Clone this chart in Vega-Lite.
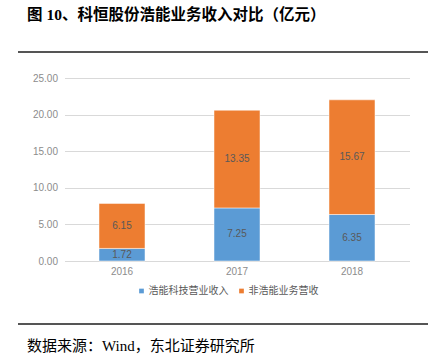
{
  "$schema": "https://vega.github.io/schema/vega-lite/v6.json",
  "background": "white",
  "padding": {"left": 17, "top": 7, "right": 0, "bottom": 0},
  "spacing": 0,
  "center": true,
  "config": {
    "view": {"stroke": null},
    "font": "Liberation Sans, Noto Sans CJK SC"
  },
  "resolve": {"scale": {"color": "independent"}, "legend": {"color": "independent"}},
  "vconcat": [
    {
      "width": 437,
      "height": 21,
      "data": {"values": [{"v": 1}]},
      "mark": {"type": "rule", "color": "#555555", "strokeWidth": 2},
      "encoding": {
        "y": {"field": "v", "type": "quantitative", "axis": null, "scale": {"domain": [0, 1]}}
      },
      "title": {
        "text": "图 10、科恒股份浩能业务收入对比（亿元）",
        "anchor": "start",
        "dx": 10,
        "offset": 28,
        "fontSize": 15.5,
        "fontWeight": "bold",
        "font": "Liberation Serif, Noto Sans CJK SC",
        "color": "#000000"
      }
    },
    {
      "width": 345,
      "height": 183,
      "data": {
        "values": [
          {"year": "2016", "series": "浩能科技营业收入", "value": 1.72, "rank": 1},
          {"year": "2016", "series": "非浩能业务营收", "value": 6.15, "rank": 2},
          {"year": "2017", "series": "浩能科技营业收入", "value": 7.25, "rank": 1},
          {"year": "2017", "series": "非浩能业务营收", "value": 13.35, "rank": 2},
          {"year": "2018", "series": "浩能科技营业收入", "value": 6.35, "rank": 1},
          {"year": "2018", "series": "非浩能业务营收", "value": 15.67, "rank": 2}
        ]
      },
      "encoding": {
        "x": {
          "field": "year",
          "type": "nominal",
          "title": null,
          "scale": {"paddingInner": 0.6, "paddingOuter": 0.3},
          "axis": {
            "labelAngle": 0,
            "labelFontSize": 10,
            "labelColor": "#8c8c8c",
            "labelPadding": 5,
            "ticks": false,
            "domainColor": "#d9d9d9",
            "domainWidth": 1
          }
        },
        "y": {
          "field": "value",
          "type": "quantitative",
          "stack": "zero",
          "title": null,
          "scale": {"domain": [0, 25]},
          "axis": {
            "values": [0, 5, 10, 15, 20, 25],
            "format": ".2f",
            "labelFontSize": 10,
            "labelColor": "#8c8c8c",
            "labelPadding": 7,
            "ticks": false,
            "domain": false,
            "gridColor": "#d9d9d9",
            "gridWidth": 1
          }
        },
        "order": {"field": "rank", "type": "quantitative"}
      },
      "layer": [
        {
          "mark": {"type": "bar", "stroke": "white", "strokeWidth": 0.5},
          "encoding": {
            "color": {
              "field": "series",
              "type": "nominal",
              "scale": {"domain": ["浩能科技营业收入", "非浩能业务营收"], "range": ["#5B9BD5", "#ED7D31"]},
              "legend": {
                "orient": "none",
                "legendX": 72,
                "legendY": 208,
                "direction": "horizontal",
                "title": null,
                "symbolType": "square",
                "symbolSize": 22,
                "symbolStrokeWidth": 0,
                "labelFontSize": 10,
                "labelColor": "#595959",
                "columnPadding": 8,
                "labelOffset": 2
              }
            }
          }
        },
        {
          "mark": {"type": "text", "fontSize": 10, "color": "#595959"},
          "encoding": {
            "y": {"field": "value", "type": "quantitative", "stack": "zero", "bandPosition": 0.5},
            "text": {"field": "value", "type": "quantitative", "format": ".2f"}
          }
        }
      ]
    },
    {
      "width": 437,
      "height": 28,
      "data": {"values": [{"v": 0}]},
      "mark": {"type": "rule", "color": "#555555", "strokeWidth": 2},
      "encoding": {
        "y": {"field": "v", "type": "quantitative", "axis": null, "scale": {"domain": [0, 1]}}
      },
      "title": {
        "text": "数据来源：Wind，东北证券研究所",
        "orient": "bottom",
        "anchor": "start",
        "dx": 10,
        "offset": 14,
        "fontSize": 15,
        "fontWeight": "normal",
        "font": "Liberation Serif, Noto Sans CJK SC",
        "color": "#000000"
      }
    }
  ]
}
